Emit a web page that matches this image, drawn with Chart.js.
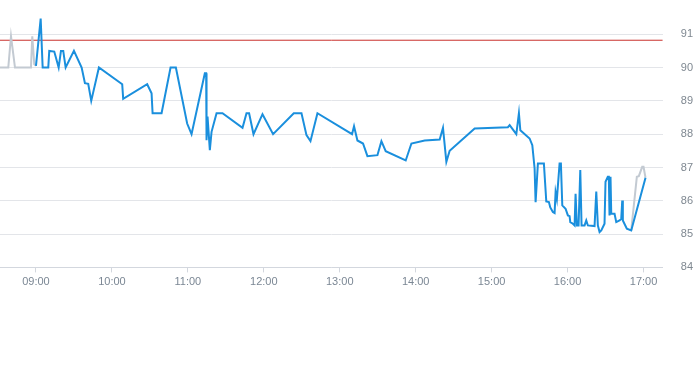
<!DOCTYPE html>
<html>
<head>
<meta charset="utf-8">
<script src="https://cdn.jsdelivr.net/npm/chart.js@4/dist/chart.umd.min.js"></script>
<style>
    body { margin: 0; background: #fff; overflow: hidden; }
    #wrap { position: relative; width: 711px; height: 309px; margin-top: -17px; }
</style>
</head>
<body>
<div id="wrap"><canvas id="priceChart"></canvas></div>
<script>
// premarket (grey)
const preTimes = ['08:31:35', '08:38:08', '08:40:16', '08:43:25', '08:56:03', '08:57:05', '08:58:40', '09:00:00'];
const prePrices = [90.0, 90.0, 90.94, 90.0, 90.0, 90.94, 90.1, 90.05];

// regular session (blue)
const sessionTimes = [
    '09:00:00', '09:03:43', '09:05:17', '09:09:43', '09:10:30', '09:14:27', '09:17:55', '09:19:44', '09:21:33', '09:23:27',
    '09:30:00', '09:36:05', '09:38:41', '09:41:17', '09:43:40', '09:49:44', '10:08:08', '10:08:55', '10:27:52', '10:31:20',
    '10:32:08', '10:39:14', '10:46:20', '10:50:32', '10:59:27', '11:02:55', '11:13:25', '11:14:27', '11:14:46', '11:15:33',
    '11:17:22', '11:18:43', '11:22:40', '11:27:23', '11:43:11', '11:46:20', '11:48:23', '11:51:52', '11:58:58', '12:07:20',
    '12:23:41', '12:29:46', '12:33:43', '12:36:52', '12:42:23', '13:09:43', '13:11:17', '13:13:58', '13:18:23', '13:21:52',
    '13:29:46', '13:32:55', '13:36:19', '13:52:07', '13:56:37', '14:07:07', '14:18:57', '14:21:34', '14:24:14', '14:26:50',
    '14:46:35', '15:12:52', '15:14:13', '15:19:30', '15:21:33', '15:22:40', '15:30:00', '15:32:08', '15:33:57', '15:34:44',
    '15:36:33', '15:41:17', '15:43:11', '15:45:14', '15:46:20', '15:48:23', '15:49:44', '15:50:32', '15:51:33', '15:53:41',
    '15:54:43', '15:55:49', '15:58:25', '16:00:14', '16:01:35', '16:02:08', '16:04:11', '16:05:32', '16:06:19', '16:07:20',
    '16:08:41', '16:10:02', '16:11:03', '16:13:25', '16:14:46', '16:16:02', '16:21:19', '16:22:40', '16:23:55', '16:25:16',
    '16:26:37', '16:29:11', '16:29:58', '16:31:47', '16:32:35', '16:33:08', '16:33:55', '16:34:30', '16:37:06', '16:38:27',
    '16:41:03', '16:42:23', '16:43:11', '16:43:40', '16:46:49', '16:50:17', '17:01:35'
];
const sessionPrices = [
    90.05, 91.47, 90.0, 90.0, 90.5, 90.48, 90.0, 90.5, 90.5, 90.0,
    90.5, 90.0, 89.53, 89.51, 89.0, 90.0, 89.5, 89.06, 89.5, 89.23,
    88.63, 88.63, 90.0, 90.0, 88.32, 88.0, 89.83, 89.83, 87.82, 88.53,
    87.52, 88.07, 88.63, 88.63, 88.19, 88.63, 88.63, 88.0, 88.6, 88.0,
    88.63, 88.63, 87.97, 87.79, 88.63, 88.0, 88.24, 87.81, 87.72, 87.34,
    87.37, 87.79, 87.49, 87.21, 87.72, 87.81, 87.84, 88.19, 87.17, 87.5,
    88.17, 88.21, 88.27, 88.0, 88.63, 88.12, 87.87, 87.67, 86.97, 85.96,
    87.12, 87.12, 85.98, 85.96, 85.8, 85.66, 85.63, 86.26, 86.05, 87.12,
    87.12, 85.86, 85.76, 85.56, 85.54, 85.36, 85.31, 85.26, 86.21, 85.26,
    85.26, 86.92, 85.26, 85.26, 85.41, 85.26, 85.24, 86.28, 85.26, 85.06,
    85.11, 85.31, 86.57, 86.72, 86.72, 85.56, 86.72, 85.61, 85.61, 85.36,
    85.41, 85.45, 86.01, 85.41, 85.16, 85.11, 86.69
];

// after hours (grey)
const postTimes = ['16:50:17', '16:54:43', '16:56:17', '16:58:58', '17:00:00', '17:01:35'];
const postPrices = [85.11, 86.72, 86.74, 87.02, 87.02, 86.69];

const prevClose = 90.82;
const xStart = '08:31:35';
const xEnd = '17:15:12';
const hourTicks = ['09:00', '10:00', '11:00', '12:00', '13:00', '14:00', '15:00', '16:00', '17:00'];
const priceTicks = [84, 85, 86, 87, 88, 89, 90, 91];

function toMinutes(str) {
    const parts = str.split(':').map(Number);
    return parts[0] * 60 + parts[1] + (parts[2] || 0) / 60;
}

function toPoints(times, prices) {
    return times.map((t, i) => ({x: toMinutes(t), y: prices[i]}));
}

const hourMinutes = hourTicks.map(toMinutes);

new Chart(document.getElementById('priceChart'), {
    type: 'line',
    data: {
        datasets: [
            {
                data: toPoints(sessionTimes, sessionPrices),
                borderColor: '#1a8fdd',
                borderWidth: 2,
                order: 0,
            },
            {
                data: toPoints(preTimes, prePrices),
                borderColor: '#c3cad2',
                borderWidth: 2,
                order: 1,
            },
            {
                data: toPoints(postTimes, postPrices),
                borderColor: '#c3cad2',
                borderWidth: 2,
                order: 1,
            },
            {
                data: [{x: toMinutes(xStart), y: prevClose}, {x: toMinutes(xEnd), y: prevClose}],
                borderColor: '#c9302c',
                borderWidth: 1,
                order: 2,
            },
        ],
    },
    options: {
        responsive: true,
        maintainAspectRatio: false,
        animation: false,
        elements: {point: {radius: 0}, line: {tension: 0}},
        plugins: {legend: {display: false}, tooltip: {enabled: false}},
        layout: {padding: 0},
        scales: {
            x: {
                type: 'linear',
                min: toMinutes(xStart),
                max: toMinutes(xEnd),
                afterBuildTicks: (scale) => {
                    scale.ticks = hourMinutes.map(v => ({value: v}));
                },
                grid: {drawOnChartArea: false, drawTicks: true, tickLength: 5, color: '#d3d7de'},
                border: {display: true, color: '#d3d7de'},
                ticks: {
                    color: '#7b8794',
                    font: {size: 11},
                    padding: 3,
                    maxRotation: 0,
                    callback: (v) => {
                        const h = Math.floor(v / 60);
                        const m = Math.round(v % 60);
                        return String(h).padStart(2, '0') + ':' + String(m).padStart(2, '0');
                    },
                },
            },
            y: {
                position: 'right',
                min: 84,
                max: 91.8,
                afterBuildTicks: (scale) => {
                    scale.ticks = priceTicks.map(v => ({value: v}));
                },
                grid: {drawTicks: false, color: '#e3e5e9'},
                border: {display: false},
                ticks: {
                    color: '#7f8891',
                    font: {size: 11},
                    padding: 18,
                    callback: (v) => v,
                },
            },
        },
    },
});
</script>
</body>
</html>
